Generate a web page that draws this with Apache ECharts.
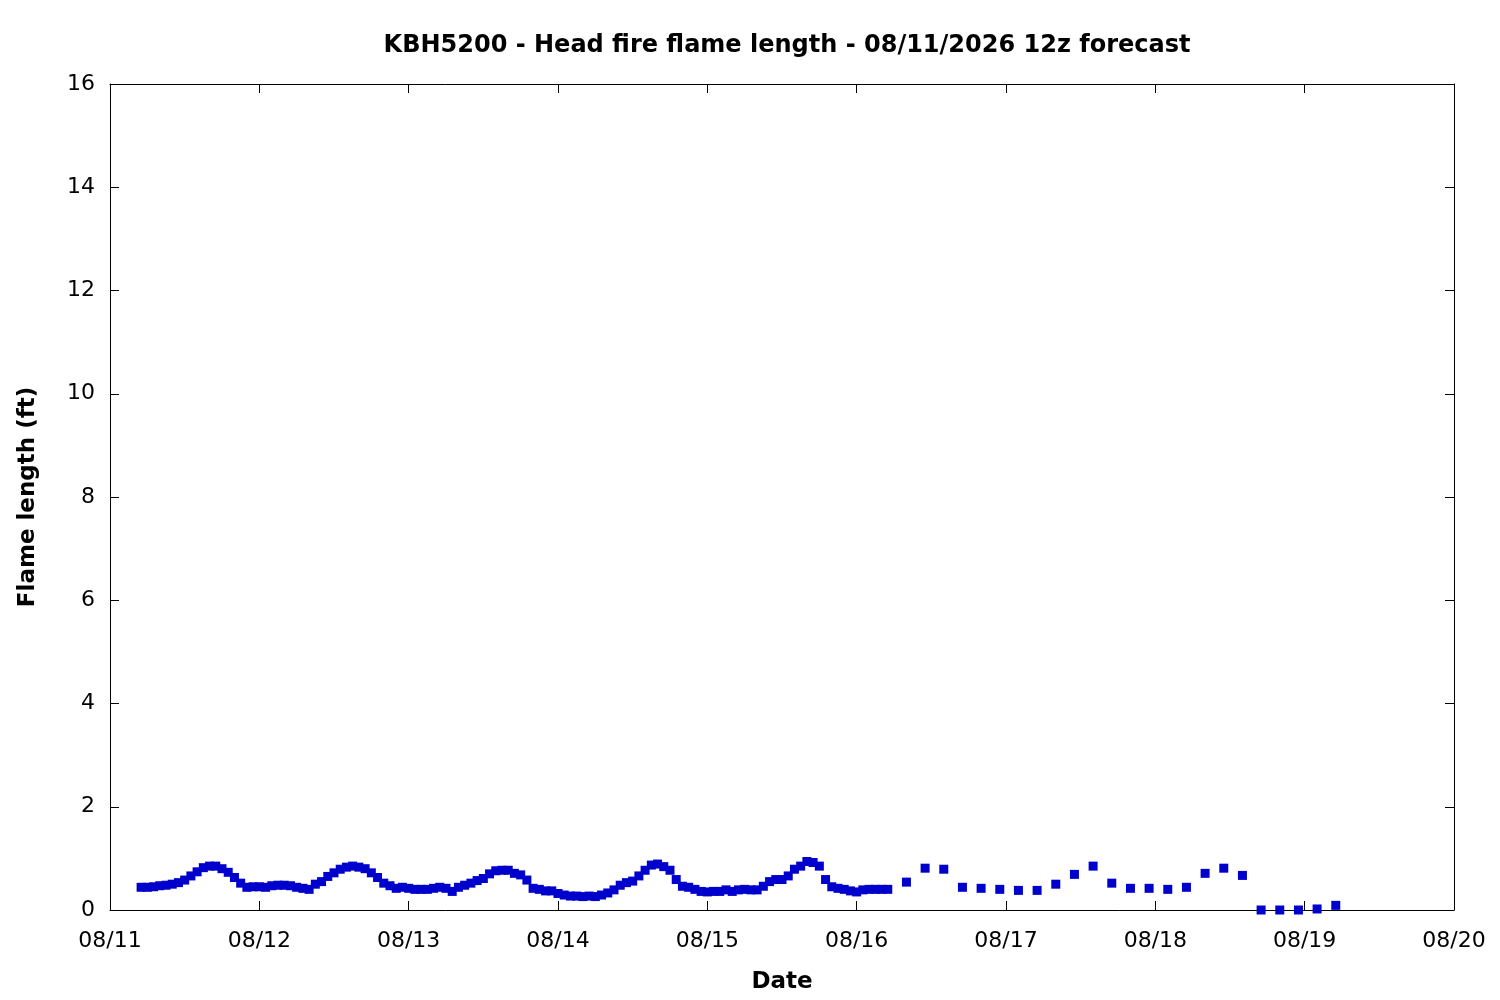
<!DOCTYPE html>
<html>
<head>
<meta charset="utf-8">
<script src="https://cdn.jsdelivr.net/npm/echarts@6/dist/echarts.min.js"></script>
<style>
  html, body { margin: 0; padding: 0; background: #fff; }
  #chart { width: 1500px; height: 1000px; }
</style>
</head>
<body>
<div id="chart"></div>
<script>
// tick labels on the date axis (one per day, 00 local)
var dayLabels = ["08/11", "08/12", "08/13", "08/14", "08/15", "08/16", "08/17", "08/18", "08/19", "08/20"];

// hourly forecast, from 08/11 05:00 to 08/16 05:00
var hourlyStart = 5;
var hourlyFlame = [
    0.44, 0.44, 0.45, 0.47, 0.48, 0.50, 0.53, 0.58, 0.66, 0.74,
    0.82, 0.85, 0.85, 0.80, 0.73, 0.63, 0.52, 0.44, 0.45, 0.45,
    0.44, 0.47, 0.48, 0.48, 0.47, 0.44, 0.42, 0.40, 0.50, 0.55,
    0.65, 0.72, 0.79, 0.83, 0.85, 0.83, 0.80, 0.72, 0.63, 0.52,
    0.47, 0.42, 0.44, 0.42, 0.40, 0.40, 0.40, 0.42, 0.44, 0.42,
    0.36, 0.44, 0.48, 0.52, 0.57, 0.61, 0.70, 0.76, 0.77, 0.77,
    0.71, 0.68, 0.58, 0.42, 0.40, 0.37, 0.37, 0.32, 0.29, 0.27,
    0.27, 0.26, 0.27, 0.26, 0.29, 0.33, 0.39, 0.48, 0.53, 0.56,
    0.66, 0.77, 0.87, 0.89, 0.84, 0.77, 0.59, 0.46, 0.44, 0.40,
    0.36, 0.35, 0.36, 0.36, 0.39, 0.36, 0.39, 0.40, 0.39, 0.39,
    0.46, 0.55, 0.59, 0.59, 0.66, 0.79, 0.85, 0.94, 0.92, 0.85,
    0.59, 0.45, 0.42, 0.40, 0.37, 0.35, 0.39, 0.40, 0.40, 0.40,
    0.40
];

// 3-hourly forecast, from 08/16 08:00 to 08/19 05:00
var threeHourStart = 128;
var threeHourFlame = [
    0.54, 0.81, 0.79, 0.44, 0.42, 0.40, 0.38, 0.38, 0.50, 0.69,
    0.85, 0.52, 0.42, 0.42, 0.40, 0.44, 0.71, 0.81, 0.67, 0.00,
    0.00, 0.00, 0.02, 0.09
];

var yTicks = [0, 2, 4, 6, 8, 10, 12, 14, 16];

var points = [];
hourlyFlame.forEach(function (v, i) {
    points.push([hourlyStart + i, v]);
});
threeHourFlame.forEach(function (v, i) {
    points.push([threeHourStart + 3 * i, v]);
});

var chart = echarts.init(document.getElementById('chart'));
var font = 'DejaVu Sans';

// gnuplot style: ticks pointing into the plot on all four sides
function frameAxis(extra) {
    var a = {
        type: 'value',
        axisLine: { show: true, onZero: false, lineStyle: { color: '#000', width: 1 } },
        axisTick: { show: true, inside: true, length: 9, lineStyle: { color: '#000', width: 1 } },
        axisLabel: { show: false },
        splitLine: { show: false }
    };
    for (var k in extra) a[k] = extra[k];
    return a;
}

var option = {
    animation: false,
    backgroundColor: '#ffffff',
    title: {
        text: 'KBH5200 - Head fire flame length - 08/11/2026 12z forecast',
        left: 782,
        textAlign: 'center',
        top: 29,
        textStyle: { fontFamily: font, fontSize: 24, fontWeight: 'bold', color: '#000' }
    },
    grid: { left: 110, right: 46, top: 84, bottom: 90 },
    xAxis: [
        frameAxis({
            position: 'bottom',
            min: 0, max: 216, interval: 24,
            name: 'Date',
            nameLocation: 'middle',
            nameGap: 61,
            nameTextStyle: { fontFamily: font, fontSize: 23, fontWeight: 'bold', color: '#000' },
            axisLabel: {
                show: true, fontFamily: font, fontSize: 22, color: '#000', margin: 20,
                formatter: function (v) { return dayLabels[Math.round(v / 24)]; }
            }
        }),
        frameAxis({ position: 'top', min: 0, max: 216, interval: 24 })
    ],
    yAxis: [
        frameAxis({
            position: 'left',
            min: yTicks[0], max: yTicks[yTicks.length - 1], interval: 2,
            name: 'Flame length (ft)',
            nameLocation: 'middle',
            nameGap: 70,
            nameTextStyle: { fontFamily: font, fontSize: 23, fontWeight: 'bold', color: '#000' },
            axisLabel: { show: true, fontFamily: font, fontSize: 22, color: '#000', margin: 15 }
        }),
        frameAxis({ position: 'right', min: yTicks[0], max: yTicks[yTicks.length - 1], interval: 2 })
    ],
    series: [{
        type: 'scatter',
        xAxisIndex: 0,
        yAxisIndex: 0,
        symbol: 'rect',
        symbolSize: 9,
        itemStyle: { color: '#0000cc', opacity: 1 },
        data: points
    }]
};

chart.setOption(option);
</script>
</body>
</html>
